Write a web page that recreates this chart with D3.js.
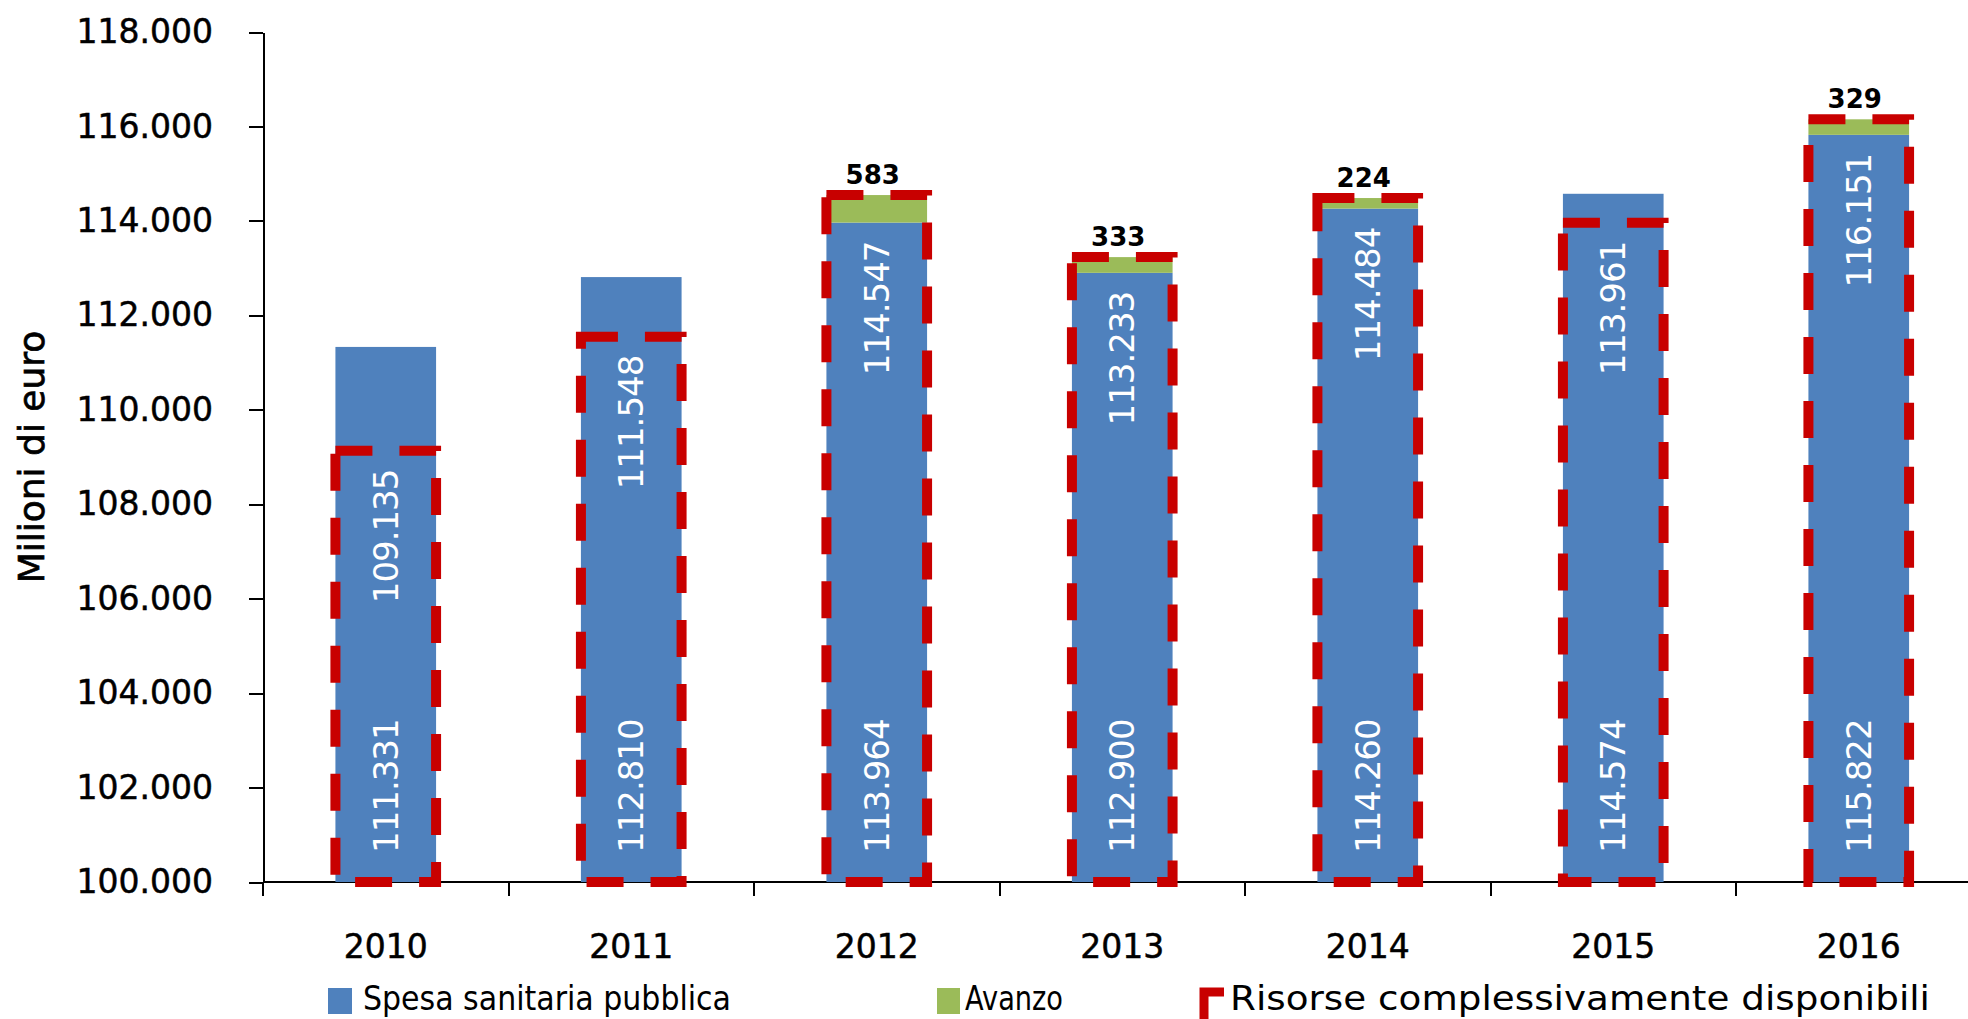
<!DOCTYPE html>
<html lang="it">
<head>
<meta charset="utf-8">
<script src="https://d3js.org/d3.v7.min.js"></script>
<style type="text/css">
body {
  margin: 0;
  background: #fff;
}
svg {
  display: block;
  font-family: "DejaVu Sans", Verdana, sans-serif;
}
.axis path,
.axis line {
  fill: none;
  stroke: #000;
  stroke-width: 2;
  shape-rendering: crispEdges;
}
.axis text {
  font-family: "DejaVu Sans", Verdana, sans-serif;
  font-size: 33px;
  fill: #000;
  stroke: #000;
  stroke-width: 0.5px;
}
</style>
<title>Spesa sanitaria pubblica e risorse disponibili</title>
</head>
<body>
<script type="text/javascript">
// dati (milioni di euro)
var years   = ["2010", "2011", "2012", "2013", "2014", "2015", "2016"];
var spesa   = [111331, 112810, 113964, 112900, 114260, 114574, 115822];
var avanzo  = [0, 0, 583, 333, 224, 0, 329];
var risorse = [109135, 111548, 114547, 113233, 114484, 113961, 116151];
var yTicks  = [100000, 102000, 104000, 106000, 108000, 110000, 112000, 114000, 116000, 118000];
var legendLabels = ["Spesa sanitaria pubblica", "Avanzo", "Risorse complessivamente disponibili"];

var blue = "#4F81BD", green = "#9BBB59", red = "#C80000";

var W = 1968, H = 1019;
var plotLeft = 263, plotTop = 32, plotBottom = 882, step = 245.5;

var it = d3.formatLocale({decimal: ",", thousands: ".", grouping: [3], currency: ["€", ""]});
var fmt = it.format(",d");

var svg = d3.select("body").append("svg")
    .attr("width", W)
    .attr("height", H);

svg.append("rect").attr("width", W).attr("height", H).attr("fill", "#fff");

var x = d3.scaleBand()
    .domain(years)
    .range([plotLeft, plotLeft + step * years.length])
    .paddingInner(0.59)
    .paddingOuter(0.295);

var y = d3.scaleLinear()
    .domain([100000, 118000])
    .range([plotBottom, plotTop]);

var bw = x.bandwidth();

// assi
svg.append("g")
  .attr("class", "axis axis--y")
  .attr("transform", "translate(" + plotLeft + ",0)")
  .call(d3.axisLeft(y).tickValues(yTicks).tickFormat(fmt)
    .tickSizeInner(14).tickSizeOuter(0).tickPadding(36));

var xAxis = svg.append("g")
  .attr("class", "axis axis--x")
  .attr("transform", "translate(0," + plotBottom + ")");

xAxis.append("line")
  .attr("x1", plotLeft).attr("x2", W)
  .attr("y1", 0).attr("y2", 0);

var bounds = years.map(function(d) { return x(d) + bw / 2 - step / 2; });
bounds.push(bounds[bounds.length - 1] + step);
xAxis.selectAll(".tk").data(bounds).enter().append("line")
  .attr("class", "tk")
  .attr("x1", function(d) { return d; }).attr("x2", function(d) { return d; })
  .attr("y1", 0).attr("y2", 14);

xAxis.selectAll(".lb").data(years).enter().append("text")
  .attr("class", "lb")
  .attr("x", function(d) { return x(d) + bw / 2; })
  .attr("y", 76)
  .attr("text-anchor", "middle")
  .text(function(d) { return d; });

svg.append("text")
  .attr("transform", "translate(31,457) rotate(-90)")
  .attr("text-anchor", "middle")
  .attr("dominant-baseline", "central")
  .attr("stroke", "#000")
  .attr("stroke-width", 0.7)
  .style("font-size", "36px")
  .text("Milioni di euro");

// barre
svg.selectAll(".spesa").data(years).enter().append("rect")
  .attr("class", "spesa")
  .attr("x", function(d) { return x(d); })
  .attr("width", bw)
  .attr("y", function(d, i) { return y(spesa[i]); })
  .attr("height", function(d, i) { return y(100000) - y(spesa[i]); })
  .attr("fill", blue);

svg.selectAll(".avanzo").data(years).enter().append("rect")
  .attr("class", "avanzo")
  .attr("x", function(d) { return x(d); })
  .attr("width", bw)
  .attr("y", function(d, i) { return y(spesa[i] + avanzo[i]); })
  .attr("height", function(d, i) { return y(spesa[i]) - y(spesa[i] + avanzo[i]); })
  .attr("fill", green);

svg.selectAll(".risorse").data(years).enter().append("rect")
  .attr("class", "risorse")
  .attr("x", function(d) { return x(d); })
  .attr("width", bw)
  .attr("y", function(d, i) { return y(risorse[i]); })
  .attr("height", function(d, i) { return y(100000) - y(risorse[i]); })
  .attr("fill", "none")
  .attr("stroke", red)
  .attr("stroke-width", 10)
  .attr("stroke-dasharray", "37,27");

// etichette
svg.selectAll(".lspesa").data(years).enter().append("text")
  .attr("class", "lspesa")
  .attr("transform", function(d) { return "translate(" + (x(d) + bw / 2) + "," + (plotBottom - 29) + ") rotate(-90)"; })
  .attr("dominant-baseline", "central")
  .attr("fill", "#fff")
  .style("font-size", "34px")
  .style("letter-spacing", "-1px")
  .text(function(d, i) { return fmt(spesa[i]); });

// etichetta risorse: sotto la cima piu bassa tra barra blu e riquadro rosso
svg.selectAll(".lrisorse").data(years).enter().append("text")
  .attr("class", "lrisorse")
  .attr("transform", function(d, i) {
    var yy = Math.max(y(spesa[i]), y(risorse[i])) + 19;
    return "translate(" + (x(d) + bw / 2) + "," + yy + ") rotate(-90)";
  })
  .attr("text-anchor", "end")
  .attr("dominant-baseline", "central")
  .attr("fill", "#fff")
  .style("font-size", "34px")
  .style("letter-spacing", "-1px")
  .text(function(d, i) { return fmt(risorse[i]); });

svg.selectAll(".lavanzo").data(years.filter(function(d, i) { return avanzo[i] > 0; })).enter().append("text")
  .attr("class", "lavanzo")
  .attr("x", function(d) { return x(d) + bw / 2 - 4; })
  .attr("y", function(d) { var i = years.indexOf(d); return y(risorse[i]) - 11; })
  .attr("text-anchor", "middle")
  .style("font-size", "26px")
  .style("font-weight", "bold")
  .text(function(d) { return avanzo[years.indexOf(d)]; });

// legenda
var legend = svg.append("g");
legend.append("rect").attr("x", 328).attr("y", 988).attr("width", 24).attr("height", 26).attr("fill", blue);
legend.append("rect").attr("x", 937).attr("y", 988).attr("width", 23).attr("height", 26).attr("fill", green);
legend.append("path")
  .attr("d", "M1204,1019 L1204,992 L1224,992")
  .attr("fill", "none").attr("stroke", red).attr("stroke-width", 9);

var lx = [363, 965, 1230], lw = [368, 98, 700];
legendLabels.forEach(function(t, i) {
  legend.append("text")
    .attr("x", lx[i])
    .attr("y", 1010)
    .attr("textLength", lw[i])
    .attr("lengthAdjust", "spacingAndGlyphs")
    .style("font-size", "34px")
    .text(t);
});
</script>
</body>
</html>
